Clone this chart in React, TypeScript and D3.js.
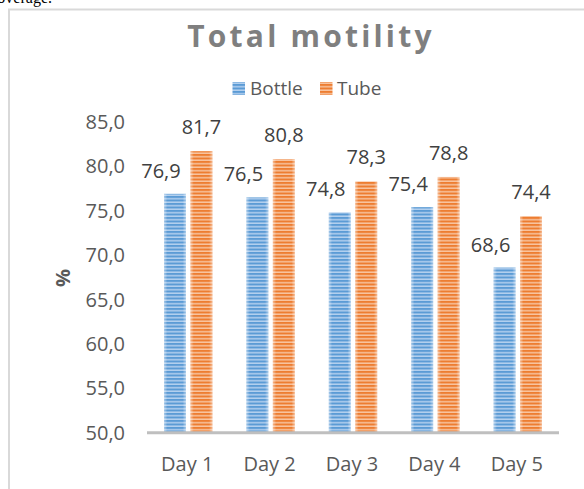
import React from "react";
import * as d3 from "d3";

const days = ["Day 1", "Day 2", "Day 3", "Day 4", "Day 5"];
const series = ["Bottle", "Tube"];
const bottle = [76.9, 76.5, 74.8, 75.4, 68.6];
const tube = [81.7, 80.8, 78.3, 78.8, 74.4];
const yTicks = [50, 55, 60, 65, 70, 75, 80, 85];

const W = 584, H = 489;
const FONT = "'Open Sans', sans-serif";

const fmt = d3.formatLocale({ decimal: ",", thousands: ".", grouping: [3], currency: ["", ""] }).format(".1f");

const colors = {
  Bottle: { dark: "#5b9bd5", light: "#b4d0ee" },
  Tube: { dark: "#ed7d31", light: "#f8c4a0" },
};

const App = () => {
  const x = d3.scaleBand<string>().domain(days).range([147, 559]);
  const xi = d3.scaleBand<string>().domain(series).range([17, x.bandwidth() - 17]).paddingInner(0.17);
  const y = d3.scaleLinear().domain([50, 85]).range([432.7, 121.9]);

  const values: Record<string, number[]> = { Bottle: bottle, Tube: tube };

  return (
    <svg width={W} height={H} style={{ position: "absolute", left: 0, top: 0, background: "#fff" }}>
      <defs>
        {series.map(s => (
          <pattern key={s} id={"pat-" + s} width="4" height="3.5" patternUnits="userSpaceOnUse">
            <rect width="4" height="3.5" fill={colors[s].dark} />
            <rect y="2" width="4" height="1.5" fill={colors[s].light} />
          </pattern>
        ))}
        <linearGradient id="edge" x1="0" x2="1" y1="0" y2="0">
          <stop offset="0" stopColor="#fff" stopOpacity="0.45" />
          <stop offset="0.15" stopColor="#fff" stopOpacity="0" />
          <stop offset="0.85" stopColor="#fff" stopOpacity="0" />
          <stop offset="1" stopColor="#fff" stopOpacity="0.45" />
        </linearGradient>
      </defs>

      {/* bit of the document text above */}
      <text x={52} y={3} textAnchor="end" fontFamily="'Liberation Serif', serif" fontSize={16} fill="#000">coverage.</text>

      {/* chart frame */}
      <rect x={9} y={9.5} width={W + 20} height={H + 20} fill="#fff" stroke="#d9d9d9" strokeWidth={2} />

      {/* title */}
      <text x={311} y={46.5} textAnchor="middle" fontFamily={FONT} fontWeight="bold" fontSize={30}
        letterSpacing={3.2} fill="#7f7f7f">Total motility</text>

      {/* legend */}
      <g fontFamily={FONT} fontSize={19} fill="#595959">
        <rect x={232.5} y={82} width={12.5} height={13} fill="url(#pat-Bottle)" />
        <text x={250} y={95}>Bottle</text>
        <rect x={320} y={82} width={12.5} height={13} fill="url(#pat-Tube)" />
        <text x={337} y={95}>Tube</text>
      </g>

      {/* y tick labels */}
      <g fontFamily={FONT} fontSize={20} fill="#595959" textAnchor="end">
        {yTicks.map(t => (
          <text key={t} x={125} y={y(t) + 7}>{fmt(t)}</text>
        ))}
      </g>

      {/* y axis title */}
      <text transform="translate(70,278) rotate(-90)" textAnchor="middle" fontFamily={FONT} fontWeight="bold"
        fontSize={20} fill="#595959">%</text>

      {/* bars */}
      {days.map((d, i) => (
        <g key={d} transform={`translate(${x(d)},0)`}>
          {series.map(s => {
            const v = values[s][i];
            const bx = xi(s)!;
            const bw = xi.bandwidth();
            return (
              <g key={s}>
                <rect x={bx} y={y(v)} width={bw} height={y(50) - y(v)} fill={`url(#pat-${s})`} />
                <rect x={bx} y={y(v)} width={bw} height={y(50) - y(v)} fill="url(#edge)" />
              </g>
            );
          })}
        </g>
      ))}

      {/* data labels */}
      <g fontFamily={FONT} fontSize={20} fill="#404040" textAnchor="middle">
        {days.map((d, i) => (
          <g key={d}>
            <text x={x(d)! + xi("Bottle")! + xi.bandwidth() / 2 - 14} y={y(bottle[i]) - 16}>{fmt(bottle[i])}</text>
            <text x={x(d)! + xi("Tube")! + xi.bandwidth() / 2} y={y(tube[i]) - 17}>{fmt(tube[i])}</text>
          </g>
        ))}
      </g>

      {/* baseline */}
      <line x1={147} x2={559} y1={y(50)} y2={y(50)} stroke="#bfbfbf" strokeWidth={3} />

      {/* x labels */}
      <g fontFamily={FONT} fontSize={20} fill="#595959" textAnchor="middle">
        {days.map(d => (
          <text key={d} x={x(d)! + x.bandwidth() / 2 - 1} y={470.5}>{d}</text>
        ))}
      </g>
    </svg>
  );
};

export default App;
